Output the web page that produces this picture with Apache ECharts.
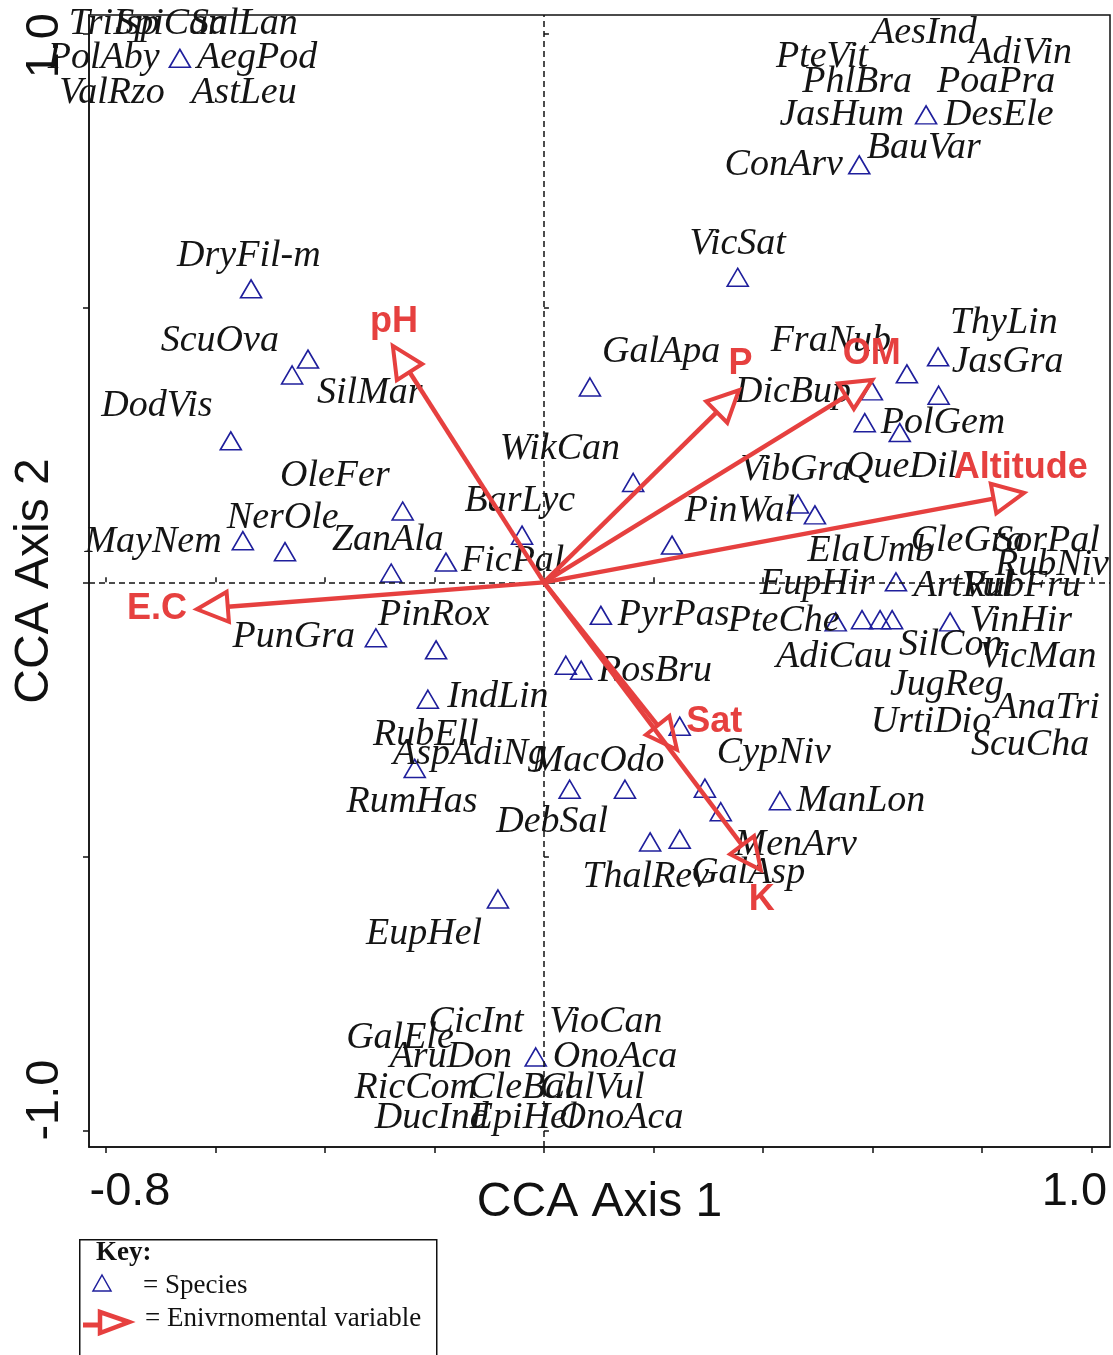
<!DOCTYPE html>
<html>
<head>
<meta charset="utf-8">
<script src="https://cdn.jsdelivr.net/npm/echarts@6/dist/echarts.min.js"></script>
<style>
html,body{margin:0;padding:0;background:#fff;}
#chart{width:1113px;height:1355px;}
</style>
</head>
<body>
<div id="chart"></div>
<script>
// ---- Data ----
// Species points (triangles)
const speciesPtX = [-0.665,0.698,0.576,0.354,-0.535,-0.431,-0.460,-0.572,0.084,0.720,0.663,0.721,0.599,0.586,0.650,0.163,0.464,0.495,0.234,-0.258,-0.550,-0.473,-0.040,-0.179,-0.279,0.643,0.104,0.533,0.581,0.614,0.636,0.742,-0.307,-0.197,0.040,0.068,0.248,-0.212,-0.236,0.047,0.148,0.294,0.323,0.431,0.194,0.248,-0.084,-0.015];
const speciesPtY = [0.955,0.852,0.761,0.556,0.535,0.407,0.378,0.258,0.356,0.411,0.380,0.341,0.349,0.291,0.273,0.182,0.143,0.123,0.068,0.130,0.076,0.056,0.086,0.037,0.017,0.001,-0.060,-0.072,-0.068,-0.068,-0.068,-0.072,-0.101,-0.123,-0.151,-0.160,-0.262,-0.213,-0.339,-0.377,-0.377,-0.375,-0.418,-0.398,-0.473,-0.468,-0.577,-0.865];

// Species labels (as placed on the plot)
const speciesNames = ["TriIsp","SpiCan","SalLan","PolAby","AegPod","ValRzo","AstLeu","AesInd","PteVit","AdiVin","PhlBra","PoaPra","JasHum","DesEle","BauVar","ConArv","VicSat","DryFil-m","ScuOva","SilMar","DodVis","OleFer","NerOle","MayNem","ZanAla","BarLyc","FicPal","WikCan","GalApa","FraNub","DicBup","ThyLin","JasGra","PolGem","VibGra","QueDil","PinWal","ElaUmb","CleGra","SorPal","RubNiv","EupHir","ArtVul","RubFru","PyrPas","PteChe","VinHir","AdiCau","SilCon","VicMan","RosBru","JugReg","AnaTri","UrtiDio","ScuCha","CypNiv","ManLon","MenArv","GalAsp","ThalRev","MacOdo","DebSal","PinRox","PunGra","IndLin","RubEll","AspAdiNg","RumHas","EupHel","CicInt","VioCan","GalEle","AruDon","OnoAca","RicCom","CleBal","CalVul","DucInd","EpiHel","OnoAca"];
const speciesLabX = [-0.785,-0.681,-0.548,-0.804,-0.524,-0.789,-0.548,0.694,0.508,0.871,0.572,0.826,0.544,0.831,0.694,0.438,0.354,-0.539,-0.592,-0.318,-0.707,-0.382,-0.477,-0.714,-0.285,-0.044,-0.057,0.029,0.214,0.524,0.455,0.840,0.847,0.729,0.460,0.654,0.358,0.597,0.774,0.919,0.928,0.499,0.765,0.873,0.237,0.438,0.871,0.530,0.743,0.902,0.203,0.736,0.919,0.707,0.888,0.420,0.579,0.460,0.373,0.186,0.099,0.015,-0.201,-0.457,-0.084,-0.216,-0.135,-0.241,-0.219,-0.124,0.113,-0.263,-0.170,0.130,-0.234,-0.040,0.088,-0.205,-0.037,0.141];
const speciesLabY = [1.017,1.017,1.017,0.955,0.955,0.891,0.891,1.001,0.957,0.965,0.912,0.912,0.852,0.852,0.791,0.760,0.617,0.595,0.440,0.345,0.321,0.194,0.117,0.074,0.078,0.149,0.039,0.243,0.420,0.440,0.347,0.473,0.402,0.290,0.205,0.210,0.130,0.057,0.075,0.075,0.031,-0.003,-0.007,-0.007,-0.060,-0.070,-0.070,-0.136,-0.114,-0.136,-0.162,-0.187,-0.229,-0.254,-0.296,-0.311,-0.399,-0.479,-0.530,-0.537,-0.326,-0.437,-0.060,-0.100,-0.209,-0.278,-0.313,-0.401,-0.641,-0.801,-0.801,-0.830,-0.865,-0.865,-0.922,-0.922,-0.922,-0.976,-0.976,-0.976];

// Environmental variables (arrow tips) and their label positions
const envNames = ["pH","E.C","P","OM","Altitude","Sat","K"];
const envX = [-0.276,-0.634,0.356,0.600,0.877,0.243,0.396];
const envY = [0.431,-0.049,0.350,0.369,0.163,-0.305,-0.524];
const envLabX = [-0.274,-0.707,0.359,0.599,0.871,0.311,0.398];
const envLabY = [0.474,-0.049,0.398,0.416,0.208,-0.254,-0.579];

// Axis ticks and labels
const xTicks = [-0.8,-0.6,-0.4,-0.2,0,0.2,0.4,0.6,0.8,1.0];
const xTickLabels = [-0.8,1.0];
const yTicks = [-1.0,-0.5,0,0.5,1.0];
const yTickLabels = [-1.0,1.0];

// ---- Chart ----
const RED = '#e6403f';
const BLUE = '#1f1f9c';
const INK = '#111111';
const chart = echarts.init(document.getElementById('chart'), null, {renderer:'canvas'});

const fmtTick = v => (v < 0 ? '-' : '') + Math.abs(v).toFixed(1);
const SANS = 'Liberation Sans, Arial';

const option = {
  animation: false,
  backgroundColor: '#ffffff',
  grid: {left: 89, top: 15, right: 3, bottom: 208, containLabel:false, outerBoundsMode:'none',
         show: true, borderColor: INK, borderWidth: 1.5, backgroundColor: 'transparent'},
  xAxis: [
    {type:'value', min:-0.831, max:1.034, position:'bottom',
     name:'CCA Axis 1', nameLocation:'middle', nameGap:32, nameMoveOverlap:false,
     nameTextStyle:{fontFamily:SANS, fontSize:48, color:INK, verticalAlign:'top'},
     axisLine:{show:true, onZero:false, lineStyle:{color:INK, width:1.5}},
     axisTick:{show:true, customValues:xTicks, length:6, lineStyle:{color:INK, width:1.5}},
     axisLabel:{show:true, customValues:xTickLabels, margin:22,
       fontFamily:SANS, fontSize:47, color:INK,
       formatter: v => v < 0 ? '{a|' + fmtTick(v) + '}' : '{b|' + fmtTick(v) + '}',
       rich:{a:{fontFamily:SANS, fontSize:47, color:INK, padding:[0,0,0,48]},
             b:{fontFamily:SANS, fontSize:47, color:INK, padding:[0,34,0,0]}}},
     splitLine:{show:false}},
    {type:'value', min:-0.831, max:1.034, position:'bottom',
     axisLine:{show:false},
     axisTick:{show:true, inside:true, customValues:xTicks, length:5, lineStyle:{color:INK, width:1.5}},
     axisLabel:{show:false}, splitLine:{show:false}}
  ],
  yAxis: [
    {type:'value', min:-1.029, max:1.034, position:'left',
     name:'CCA Axis 2', nameLocation:'middle', nameGap:30, nameMoveOverlap:false,
     nameTextStyle:{fontFamily:SANS, fontSize:48, color:INK},
     axisLine:{show:true, onZero:false, lineStyle:{color:INK, width:1.5}},
     axisTick:{show:true, customValues:yTicks, length:6, lineStyle:{color:INK, width:1.5}},
     axisLabel:{show:true, customValues:yTickLabels, rotate:90, margin:20,
       fontFamily:SANS, fontSize:47, color:INK,
       formatter: v => v < 0 ? '{a|' + fmtTick(v) + '}' : '{b|' + fmtTick(v) + '}',
       rich:{a:{fontFamily:SANS, fontSize:47, color:INK, padding:[0,0,0,62]},
             b:{fontFamily:SANS, fontSize:47, color:INK, padding:[0,24,0,0]}}},
     splitLine:{show:false}},
    {type:'value', min:-1.029, max:1.034, position:'left',
     axisLine:{show:false},
     axisTick:{show:true, inside:true, customValues:yTicks, length:5, lineStyle:{color:INK, width:1.5}},
     axisLabel:{show:false}, splitLine:{show:false}}
  ],
  series: [
    {
      name:'Species', type:'scatter', z:3,
      data: speciesPtX.map((x,i)=>[x, speciesPtY[i]]),
      symbol:'triangle', symbolSize:[21,18],
      itemStyle:{color:'rgba(0,0,0,0)', borderColor:BLUE, borderWidth:1.6, opacity:1},
      markLine:{
        silent:true, symbol:['none','none'], label:{show:false},
        lineStyle:{type:[6,4], color:INK, width:1.5, opacity:1},
        data:[{xAxis:0},{yAxis:0}]
      }
    },
    {
      name:'SpeciesLabels', type:'scatter', z:4,
      symbolSize:0, silent:true,
      itemStyle:{opacity:1},
      data: speciesNames.map((n,i)=>({name:n, value:[speciesLabX[i], speciesLabY[i]]})),
      label:{show:true, position:'inside', formatter:'{b}',
        fontFamily:'Liberation Serif, Times New Roman', fontStyle:'italic', fontSize:38, color:'#141414'}
    },
    {
      name:'Environment', type:'custom', z:5,
      data: envX.map((x,i)=>[x, envY[i]]),
      renderItem: function(params, api){
        const o = api.coord([0,0]);
        const t = api.coord([api.value(0), api.value(1)]);
        const dx = t[0]-o[0], dy = t[1]-o[1];
        const len = Math.sqrt(dx*dx+dy*dy);
        const ux = dx/len, uy = dy/len;
        const nx = -uy, ny = ux;
        const L = 31, W = 15;
        const b = [t[0]-L*ux, t[1]-L*uy];
        return {
          type:'group',
          children:[
            {type:'line', shape:{x1:o[0], y1:o[1], x2:b[0], y2:b[1]},
             style:{stroke:RED, lineWidth:4.5}},
            {type:'polygon', shape:{points:[[t[0],t[1]],[b[0]+W*nx,b[1]+W*ny],[b[0]-W*nx,b[1]-W*ny]]},
             style:{stroke:RED, lineWidth:4, fill:'none', lineJoin:'miter'}}
          ]
        };
      }
    },
    {
      name:'EnvLabels', type:'scatter', z:6,
      symbolSize:0, silent:true,
      itemStyle:{opacity:1},
      data: envNames.map((n,i)=>({name:n, value:[envLabX[i], envLabY[i]]})),
      label:{show:true, position:'inside', formatter:'{b}',
        fontFamily:SANS, fontWeight:'bold', fontSize:36, color:RED}
    }
  ],
  graphic: [
    {type:'rect', left:79, top:1239, shape:{width:357, height:140},
     style:{fill:'#fff', stroke:INK, lineWidth:1.5}, z:10},
    {type:'text', left:96, top:1240, z:11,
     style:{text:'Key:', font:'bold 27px "Liberation Serif", "Times New Roman"', fill:INK}},
    {type:'polygon', z:11, shape:{points:[[102,1275],[111,1291],[93,1291]]},
     style:{fill:'none', stroke:BLUE, lineWidth:1.5}},
    {type:'text', left:143, top:1272, z:11,
     style:{text:'= Species', font:'27px "Liberation Serif", "Times New Roman"', fill:INK}},
    {type:'line', z:11, shape:{x1:83, y1:1325, x2:100, y2:1325}, style:{stroke:RED, lineWidth:5}},
    {type:'polygon', z:11, shape:{points:[[129,1322],[100,1312],[100,1333]]},
     style:{fill:'none', stroke:RED, lineWidth:4.5}},
    {type:'text', left:145, top:1305, z:11,
     style:{text:'= Enivrnomental variable', font:'27px "Liberation Serif", "Times New Roman"', fill:INK}}
  ]
};
chart.setOption(option);
</script>
</body>
</html>
